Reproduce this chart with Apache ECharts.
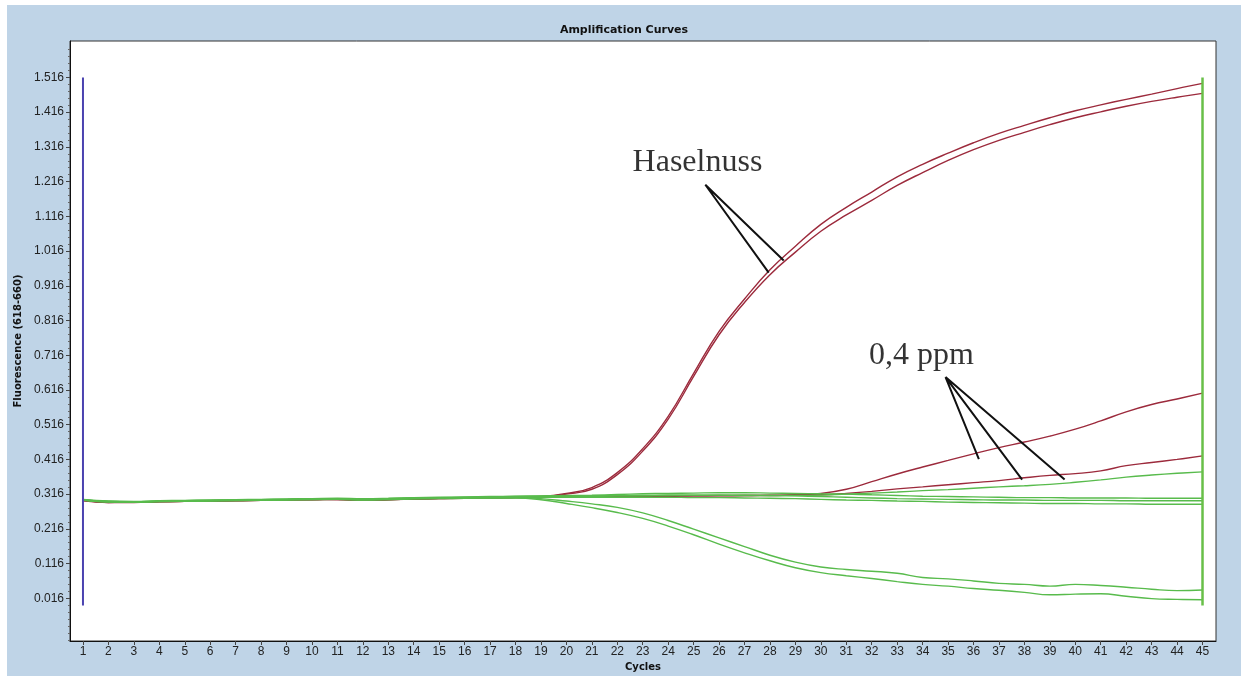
<!DOCTYPE html>
<html>
<head>
<meta charset="utf-8">
<script src="https://cdn.jsdelivr.net/npm/echarts@6/dist/echarts.min.js"></script>
<style>
  html, body { margin: 0; padding: 0; background: #ffffff; }
  #panel { position: absolute; left: 7px; top: 5px; width: 1234px; height: 671px; background: #bfd4e7; }
  #chart { position: absolute; left: 0; top: 0; width: 1248px; height: 681px; }
</style>
</head>
<body>
<div id="panel"></div>
<div id="chart"></div>
<script>
// PCR cycle numbers (x axis)
const cycles = [1,2,3,4,5,6,7,8,9,10,11,12,13,14,15,16,17,18,19,20,21,22,23,24,25,26,27,28,29,30,31,32,33,34,35,36,37,38,39,40,41,42,43,44,45];

// Fluorescence tick labels (618-660 channel)
const yTicks = [0.016,0.116,0.216,0.316,0.416,0.516,0.616,0.716,0.816,0.916,1.016,1.116,1.216,1.316,1.416,1.516];

// Hazelnut positive samples
const haselnuss1 = [0.298,0.294,0.293,0.295,0.296,0.297,0.298,0.299,0.300,0.301,0.301,0.299,0.301,0.303,0.304,0.305,0.306,0.307,0.309,
  0.318,0.335,0.378,0.447,0.540,0.664,0.785,0.878,0.962,1.030,1.093,1.142,1.186,1.230,1.266,1.298,1.328,1.355,1.378,1.400,1.420,1.437,1.453,1.468,1.484,1.499];
const haselnuss2 = [0.297,0.292,0.292,0.294,0.295,0.296,0.297,0.298,0.299,0.300,0.302,0.298,0.300,0.302,0.303,0.304,0.305,0.306,0.308,
  0.316,0.330,0.372,0.440,0.532,0.655,0.775,0.868,0.948,1.013,1.073,1.120,1.162,1.205,1.242,1.277,1.308,1.335,1.358,1.380,1.400,1.417,1.433,1.447,1.459,1.470];

// 0,4 ppm samples
const ppmRed1 = [0.299,0.293,0.293,0.295,0.296,0.296,0.298,0.299,0.300,0.300,0.301,0.300,0.300,0.302,0.304,0.304,0.306,0.306,0.307,
  0.308,0.309,0.309,0.310,0.311,0.311,0.312,0.312,0.313,0.314,0.318,
  0.330,0.352,0.374,0.394,0.413,0.432,0.450,0.466,0.483,0.503,0.527,0.553,0.574,0.590,0.607];
const ppmRed2 = [0.298,0.292,0.294,0.294,0.295,0.297,0.297,0.298,0.299,0.301,0.300,0.299,0.301,0.302,0.303,0.305,0.305,0.307,0.308,
  0.308,0.309,0.310,0.310,0.310,0.311,0.311,0.312,0.312,0.313,0.314,
  0.318,0.324,0.331,0.337,0.343,0.349,0.355,0.363,0.370,0.375,0.383,0.398,0.407,0.416,0.426];
const ppmGreen = [0.300,0.295,0.294,0.296,0.297,0.298,0.299,0.300,0.301,0.302,0.303,0.301,0.303,0.305,0.306,0.307,0.308,0.309,0.310,
  0.311,0.311,0.312,0.312,0.313,0.313,0.313,0.312,0.312,0.312,0.313,
  0.316,0.319,0.322,0.326,0.329,0.333,0.337,0.340,0.344,0.350,0.357,0.365,0.371,0.376,0.380];

// Negative samples (flat)
const flat1 = [0.301,0.296,0.295,0.297,0.298,0.299,0.300,0.301,0.302,0.303,0.304,0.303,0.304,0.306,0.307,0.308,0.309,0.310,0.311,
  0.312,0.313,0.315,0.317,0.318,0.319,0.320,0.320,0.319,0.318,0.317,0.316,0.314,0.312,0.310,0.309,0.308,0.307,0.306,0.306,0.305,0.305,0.305,0.304,0.304,0.304];
const flat2 = [0.299,0.294,0.294,0.295,0.296,0.297,0.298,0.299,0.300,0.301,0.302,0.300,0.302,0.304,0.305,0.306,0.307,0.308,0.309,
  0.310,0.310,0.311,0.312,0.313,0.313,0.313,0.313,0.312,0.311,0.309,0.307,0.305,0.303,0.302,0.301,0.300,0.299,0.299,0.298,0.298,0.298,0.297,0.297,0.297,0.297];
const flat3 = [0.298,0.293,0.293,0.294,0.295,0.296,0.297,0.298,0.299,0.300,0.301,0.299,0.300,0.302,0.303,0.304,0.305,0.306,0.307,
  0.307,0.307,0.307,0.307,0.307,0.306,0.306,0.305,0.304,0.303,0.301,0.299,0.298,0.296,0.295,0.293,0.292,0.291,0.290,0.289,0.289,0.288,0.288,0.287,0.287,0.287];

// Samples with decreasing signal
const falling1 = [0.300,0.295,0.294,0.296,0.297,0.298,0.299,0.300,0.301,0.302,0.302,0.301,0.302,0.304,0.305,0.306,0.306,0.306,
  0.303,0.296,0.288,0.278,0.262,0.240,0.215,0.190,0.165,0.140,0.120,0.106,0.099,0.094,0.088,0.076,0.072,0.066,0.059,0.056,0.051,0.056,0.053,0.048,0.042,0.038,0.040];
const falling2 = [0.299,0.294,0.293,0.295,0.296,0.297,0.298,0.299,0.300,0.301,0.301,0.300,0.301,0.303,0.304,0.305,0.305,0.305,
  0.300,0.289,0.277,0.263,0.246,0.224,0.199,0.172,0.147,0.124,0.104,0.090,0.081,0.073,0.064,0.056,0.051,0.044,0.039,0.033,0.026,0.028,0.029,0.022,0.015,0.013,0.012];

// Analysis window markers (cycle, fluorescence)
const startMarker = [[1, 1.516], [1, -0.005]];
const endMarker = [[45, 1.516], [45, -0.005]];

// Annotation callouts: text anchor and leader line ends (cycle, fluorescence)
const haselnussText = [25.15, 1.271];
const haselnussLeader = [[27.95, 0.954], [25.46, 1.207], [28.54, 0.989]];
const ppmText = [33.95, 0.714];
const ppmLeader = [[36.21, 0.417], [34.9, 0.653], [37.91, 0.358], [34.9, 0.653], [39.58, 0.358]];

const RED = '#9c2a3c';
const GREEN = '#58bb4c';

function pts(arr) { return cycles.map((c, i) => [c, arr[i]]); }

function curve(arr, color) {
  return {
    type: 'line', data: pts(arr), showSymbol: false, silent: true,
    smooth: 0.45,
    lineStyle: { color: color, width: 1.4 }, z: 3
  };
}

// minor tick positions between the labelled ticks
const yMinor = [];
yTicks.forEach(t => { for (let k = 1; k < 5; k++) yMinor.push(+(t + k * 0.02).toFixed(3)); });
yMinor.unshift(-0.004, -0.024, -0.044, -0.064, -0.084, -0.104);

const chart = echarts.init(document.getElementById('chart'), null, { renderer: 'canvas' });

chart.setOption({
  backgroundColor: 'transparent',
  animation: false,
  title: {
    text: 'Amplification Curves', left: 'center', top: 20,
    textStyle: { fontFamily: 'DejaVu Sans', fontWeight: 'bold', fontSize: 11, color: '#111' }
  },
  grid: {
    left: 70, top: 41, right: 32, bottom: 40,
    show: true, backgroundColor: '#ffffff', borderColor: '#333', borderWidth: 1
  },
  xAxis: {
    type: 'value', min: 0.49, max: 45.53,
    name: 'Cycles', nameLocation: 'middle', nameGap: 21,
    nameTextStyle: { fontFamily: 'DejaVu Sans', fontWeight: 'bold', fontSize: 10, color: '#111' },
    axisLine: { show: true, onZero: false, lineStyle: { color: '#111', width: 1 } },
    axisTick: { show: true, customValues: cycles, length: 4, lineStyle: { color: '#444' } },
    axisLabel: { customValues: cycles, margin: 5, fontFamily: 'Liberation Sans', fontSize: 12, color: '#222' },
    splitLine: { show: false }
  },
  yAxis: [{
    type: 'value', min: -0.107, max: 1.621,
    name: 'Fluorescence (618-660)', nameLocation: 'middle', nameRotate: 90, nameGap: 40,
    nameTextStyle: { fontFamily: 'DejaVu Sans', fontWeight: 'bold', fontSize: 10, color: '#111' },
    axisLine: { show: true, onZero: false, lineStyle: { color: '#111', width: 1 } },
    axisTick: { show: true, customValues: yTicks, length: 4, lineStyle: { color: '#444' } },
    axisLabel: { customValues: yTicks, margin: 6, formatter: v => v.toFixed(3),
      fontFamily: 'Liberation Sans', fontSize: 12, color: '#222' },
    splitLine: { show: false }
  }, {
    type: 'value', min: -0.107, max: 1.621, position: 'left',
    axisLine: { show: false },
    axisTick: { show: true, customValues: yMinor, length: 2, lineStyle: { color: '#666' } },
    axisLabel: { show: false },
    splitLine: { show: false }
  }],
  series: [
    curve(haselnuss1, RED),
    curve(haselnuss2, RED),
    curve(ppmRed1, RED),
    curve(ppmRed2, RED),
    curve(flat1, GREEN),
    curve(flat2, GREEN),
    curve(flat3, GREEN),
    curve(ppmGreen, GREEN),
    curve(falling1, GREEN),
    curve(falling2, GREEN),
    { type: 'line', data: startMarker, showSymbol: false, silent: true,
      lineStyle: { color: '#4b43b0', width: 2 }, z: 4 },
    { type: 'line', data: endMarker, showSymbol: false, silent: true,
      lineStyle: { color: '#68bf48', width: 2.5 }, z: 4 },
    { type: 'line', data: haselnussLeader, showSymbol: false, silent: true,
      lineStyle: { color: '#111', width: 2 }, z: 5 },
    { type: 'line', data: ppmLeader, showSymbol: false, silent: true,
      lineStyle: { color: '#111', width: 2 }, z: 5 },
    { type: 'scatter', silent: true, symbolSize: 0, z: 6,
      data: [{ value: haselnussText, name: 'Haselnuss' }, { value: ppmText, name: '0,4 ppm' }],
      label: { show: true, position: 'inside', formatter: p => p.name,
        fontFamily: 'Liberation Serif', fontSize: 32, color: '#000' } }
  ]
});
</script>
</body>
</html>
